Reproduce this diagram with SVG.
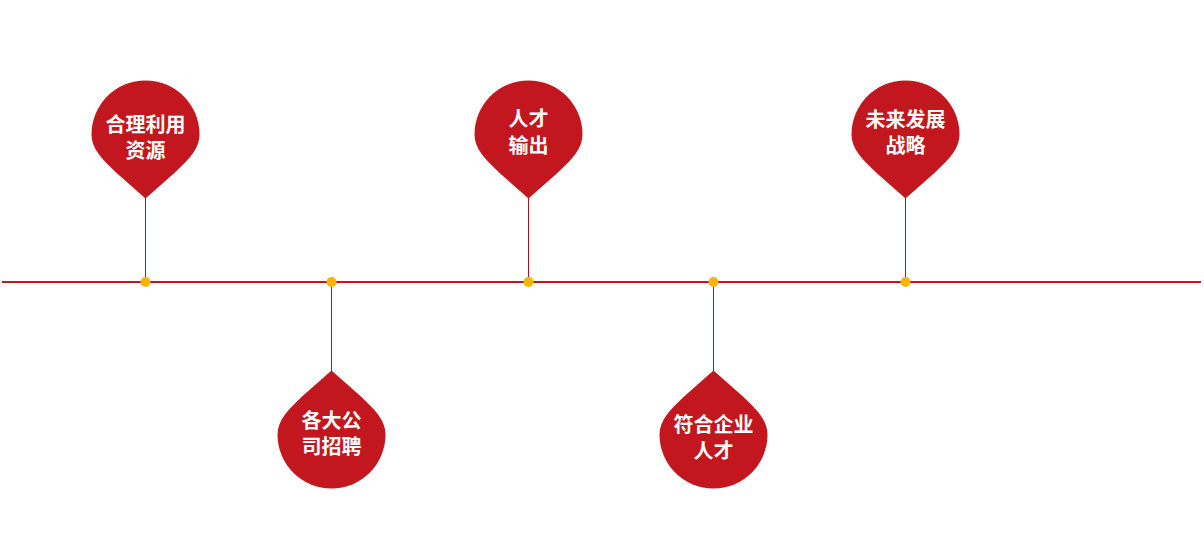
<svg xmlns="http://www.w3.org/2000/svg" width="1204" height="560" viewBox="0 0 1204 560">
<defs>
<style>
.pin{fill:#c2171f}
.stem{stroke:#a8141c;stroke-width:1}
.axis{stroke:#c2171f;stroke-width:2}
.dot{fill:#f7b500}
.lbl{fill:#fff;font-family:"Noto Sans CJK SC","Noto Sans",sans-serif;font-weight:bold;font-size:20px;text-anchor:middle;dominant-baseline:central}
</style>
<path id="up" d="M0,64 L-30,37.5 C-44,24 -54,14 -54,0 A54,54 0 0 1 54,0 C54,14 44,24 30,37.5 Z"/>
<path id="down" d="M0,-64 L-30,-37.5 C-44,-24 -54,-14 -54,0 A54,54 0 0 0 54,0 C54,-14 44,-24 30,-37.5 Z"/>
</defs>
<rect width="1204" height="560" fill="#fff"/>
<g id="connectors">
<line class="axis" x1="2" y1="282" x2="1201" y2="282"/>
<line class="stem" x1="145.5" y1="196" x2="145.5" y2="282"/>
<line class="stem" x1="331.5" y1="282" x2="331.5" y2="372"/>
<line class="stem" x1="528.5" y1="196" x2="528.5" y2="282"/>
<line class="stem" x1="713.5" y1="282" x2="713.5" y2="372"/>
<line class="stem" x1="905.5" y1="196" x2="905.5" y2="282"/>
<circle class="dot" cx="145.5" cy="282" r="5"/>
<circle class="dot" cx="331.5" cy="282" r="5"/>
<circle class="dot" cx="528.5" cy="282" r="5"/>
<circle class="dot" cx="713.5" cy="282" r="5"/>
<circle class="dot" cx="905.5" cy="282" r="5"/>
</g>
<g id="node1" transform="translate(145.5,134.5)">
<use href="#up" class="pin"/>
<text class="lbl" x="0" y="-11">合理利用</text>
<text class="lbl" x="0" y="15">资源</text>
</g>
<g id="node2" transform="translate(331.5,434.5)">
<use href="#down" class="pin"/>
<text class="lbl" x="0" y="-15">各大公</text>
<text class="lbl" x="0" y="11">司招聘</text>
</g>
<g id="node3" transform="translate(528.5,134.5)">
<use href="#up" class="pin"/>
<text class="lbl" x="0" y="-17">人才</text>
<text class="lbl" x="0" y="10">输出</text>
</g>
<g id="node4" transform="translate(713.5,434.5)">
<use href="#down" class="pin"/>
<text class="lbl" x="0" y="-11">符合企业</text>
<text class="lbl" x="0" y="15">人才</text>
</g>
<g id="node5" transform="translate(905.5,134.5)">
<use href="#up" class="pin"/>
<text class="lbl" x="0" y="-16">未来发展</text>
<text class="lbl" x="0" y="10">战略</text>
</g>
</svg>
